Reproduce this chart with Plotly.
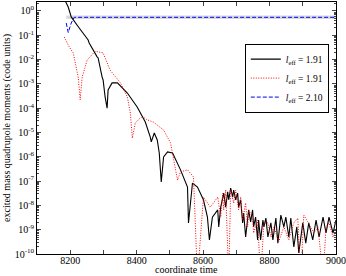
import plotly.graph_objects as go

# ---- data ----
t_black = [8185, 8194, 8203, 8209, 8227, 8254, 8257, 8281, 8284, 8296, 8299, 8305, 8311,
           8314, 8326, 8342, 8372, 8402, 8426, 8441, 8444, 8453, 8462, 8468, 8474, 8481,
           8493, 8508, 8532, 8553, 8556, 8568, 8583, 8601, 8613, 8619, 8628, 8644, 8647,
           8653, 8662, 8668, 8674, 8677, 8683, 8689, 8692, 8698, 8704, 8707, 8713, 8719,
           8722, 8728, 8734, 8737, 8743, 8749, 8752, 8758, 8764, 8767, 8773, 8780, 8783,
           8789, 8795, 8804, 8810, 8819, 8825, 8834, 8843, 8849, 8858, 8864, 8873, 8882,
           8888, 8900, 8909, 8918, 8930, 8940, 8949, 8961, 8970, 8979, 8991, 9000]
v_black = [2.6, 1.46, 0.57, 0.43, 0.20, 0.064, 0.048, 0.013, 0.0117, 1.9e-3, 1.45e-3, 2.9e-4, 1.0e-4,
           5.6e-4, 1.1e-3, 1.1e-3, 4.2e-4, 1.1e-4, 2.7e-5, 6.5e-6, 4.1e-6, 9.5e-6, 4.9e-6, 1.44e-6, 9.2e-8, 9.8e-7,
           1.58e-6, 1.44e-6, 2.9e-7, 5.7e-8, 1.9e-9, 8.3e-8, 5.7e-8, 1.7e-8, 3.3e-9, 3.8e-10, 3.3e-9, 6.5e-9, 1.3e-9,
           8.5e-9, 3.2e-8, 8.5e-9, 3.6e-8, 1.7e-8, 5.2e-8, 2.2e-8, 4.3e-8, 1.7e-8, 3.2e-8, 8.5e-9, 1.7e-8, 1.9e-9,
           4.9e-9, 5.0e-10, 3.0e-9, 6.5e-9, 2.1e-9, 6.5e-9, 1.3e-9, 3.3e-9, 3.8e-10, 2.5e-9, 3.8e-10, 2.5e-9, 1.3e-9,
           3.0e-9, 5.0e-10, 1.9e-9, 3.8e-10, 3.0e-9, 2.8e-10, 4.0e-9, 1.3e-9, 3.3e-9, 5.0e-10, 3.0e-9, 1.94e-10, 1.3e-9,
           1.1e-10, 1.9e-9, 2.8e-10, 1.9e-9, 3.8e-10, 2.5e-9, 5.0e-10, 3.3e-9, 7.3e-10, 3.3e-9, 7.3e-10, 2.5e-9]

t_red = [8182, 8197, 8209, 8224, 8230, 8236, 8251, 8275, 8299, 8320, 8351, 8372, 8381, 8387,
         8396, 8411, 8420, 8432, 8450, 8481, 8502, 8523, 8532, 8553, 8571, 8583, 8601, 8622,
         8644, 8653, 8659, 8662, 8668, 8677, 8683, 8692, 8698, 8707, 8713, 8719, 8728, 8734,
         8737, 8749, 8752, 8764, 8773, 8783, 8795, 8804, 8813, 8828, 8843, 8858, 8873, 8885,
         8894, 8903, 8915, 8924, 8933, 8946, 8961, 8970, 8979, 8991, 9000]
v_red = [0.085, 0.033, 0.019, 1.9e-3, 2.2e-4, 1.9e-3, 9.6e-3, 0.022, 0.019, 3.7e-3, 1.1e-3, 2.9e-4, 6.3e-5, 5.9e-6,
         2.5e-5, 4.0e-5, 4.3e-5, 3.3e-5, 2.7e-5, 1.26e-5, 3.7e-6, 1.1e-7, 2.4e-7, 2.9e-7, 1.48e-7, 1e-11, 2.2e-8, 8.5e-9,
         2.2e-8, 3.3e-9, 3.2e-8, 6.5e-9, 4.3e-8, 1e-11, 4.3e-8, 1.26e-8, 4.3e-8, 6.5e-9, 2.2e-8, 2.5e-9, 1.26e-8, 1.3e-9,
         6.5e-9, 3.3e-9, 7.3e-10, 2.5e-9, 1e-11, 1.9e-9, 1.9e-9, 5.0e-10, 1.3e-9, 3.3e-10, 1.3e-9, 3.8e-10, 1.9e-9, 3.0e-9,
         1e-11, 4.0e-9, 2.1e-9, 1.3e-9, 7.3e-10, 1.3e-9, 1e-11, 1.3e-9, 1.9e-9, 5.0e-10, 9.0e-10]

t_blue = [8188, 8194, 8203, 8212, 8600, 9000]
v_blue = [0.32, 0.13, 0.32, 0.55, 0.55, 0.55]

t_grey = [8188, 9000]
v_grey = [0.55, 0.55]

x_ticks = [8200, 8400, 8600, 8800, 9000]
y_ticks = [1e-10, 1e-9, 1e-8, 1e-7, 1e-6, 1e-5, 1e-4, 1e-3, 1e-2, 1e-1, 1]
y_ticktext = ["10<sup>-10</sup>", "10<sup>-9</sup>", "10<sup>-8</sup>", "10<sup>-7</sup>",
              "10<sup>-6</sup>", "10<sup>-5</sup>", "10<sup>-4</sup>", "10<sup>-3</sup>",
              "10<sup>-2</sup>", "10<sup>-1</sup>", "10<sup>0</sup>"]
legend_names = ["<i>l</i><sub>eff</sub> = 1.91", "<i>l</i><sub>eff</sub> = 1.91", "<i>l</i><sub>eff</sub> = 2.10"]

FONT = "Liberation Serif, Times New Roman, serif"

fig = go.Figure()
fig.add_trace(go.Scatter(x=t_grey, y=v_grey, mode="lines", showlegend=False,
                         line=dict(color="#d9d9d9", width=3.5), hoverinfo="skip"))
fig.add_trace(go.Scatter(x=t_black, y=v_black, mode="lines", name=legend_names[0],
                         line=dict(color="black", width=1.1)))
fig.add_trace(go.Scatter(x=t_red, y=v_red, mode="lines", name=legend_names[1],
                         line=dict(color="red", width=1, dash="1px,1.5px")))
fig.add_trace(go.Scatter(x=t_blue, y=v_blue, mode="lines", name=legend_names[2],
                         line=dict(color="blue", width=1, dash="4px,2px")))

fig.update_layout(
    width=346, height=276,
    margin=dict(l=37, r=10, t=2, b=22),
    paper_bgcolor="white", plot_bgcolor="white",
    font=dict(family=FONT, size=10, color="black"),
    showlegend=True,
    legend=dict(x=0.695, y=0.835, xanchor="left", yanchor="top",
                bgcolor="white", bordercolor="black", borderwidth=1,
                font=dict(family=FONT, size=9.5), itemwidth=30,
                tracegroupgap=0),
    annotations=[dict(text="coordinate time", xref="paper", yref="paper",
                      x=0.5, y=-22 / 252, xanchor="center", yanchor="bottom",
                      borderpad=0, showarrow=False, font=dict(family=FONT, size=10))],
)
fig.update_xaxes(
    range=[8100, 9000], tickvals=x_ticks, ticks="inside", ticklen=4,
    showline=True, linecolor="black", linewidth=1, mirror="ticks",
    showgrid=False, zeroline=False, automargin=False, ticklabelstandoff=-3,
    minor=dict(dtick=100, tick0=8100, ticks="inside", ticklen=4, showgrid=False),
    tickfont=dict(family=FONT, size=10),
)
fig.update_yaxes(
    type="log", range=[-10, 0.37], tickvals=y_ticks, ticktext=y_ticktext,
    ticks="inside", ticklen=4,
    showline=True, linecolor="black", linewidth=1, mirror="ticks",
    showgrid=False, zeroline=False, automargin=False,
    minor=dict(dtick="D1", ticks="inside", ticklen=2, showgrid=False),
    title=dict(text="excited mass quadrupole moments (code units)",
               font=dict(family=FONT, size=10), standoff=2),
    tickfont=dict(family=FONT, size=10),
)

fig.write_html("out.html", config={"displayModeBar": False},
               post_script="document.body.style.margin='0px';document.body.style.padding='0px';")
